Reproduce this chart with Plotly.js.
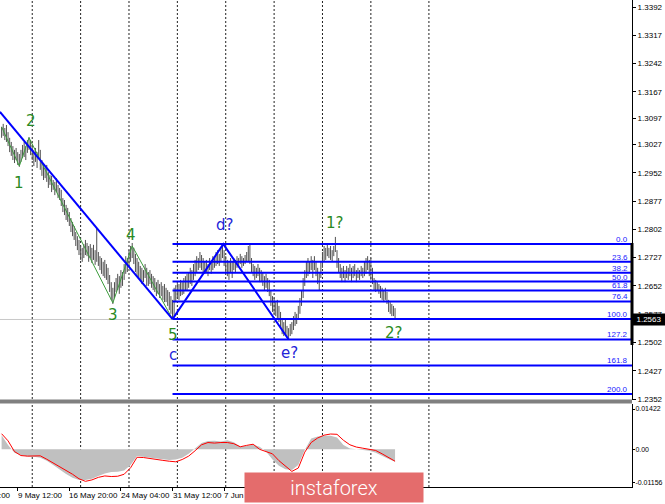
<!DOCTYPE html>
<html><head><meta charset="utf-8">
<script src="https://cdn.plot.ly/plotly-3.0.1.min.js"></script>
<style>html,body{margin:0;padding:0;background:#fff;}#c{width:665px;height:504px;}</style>
</head><body><div id="c"></div>
<script>
// H4 bars (index 0..244), highs and lows
const highs=[1.3074,1.3082,1.3071,1.3079,1.3060,1.3045,1.3034,1.3023,1.3013,1.3018,
1.3007,1.3002,1.3013,1.3026,1.3034,1.3023,1.3039,1.3047,1.3039,1.3026,
1.3013,1.3018,1.3007,1.3039,1.3013,1.2986,1.2973,1.2965,1.2973,1.2954,
1.2946,1.2944,1.2933,1.2928,1.2938,1.2920,1.2912,1.2907,1.2885,1.2880,
1.2867,1.2859,1.2848,1.2832,1.2822,1.2811,1.2795,1.2784,1.2774,1.2758,
1.2753,1.2763,1.2774,1.2766,1.2758,1.2763,1.2753,1.2761,1.2747,1.2806,
1.2742,1.2731,1.2726,1.2716,1.2721,1.2710,1.2700,1.2681,1.2662,1.2647,
1.2662,1.2673,1.2684,1.2678,1.2694,1.2689,1.2710,1.2731,1.2726,1.2747,
1.2758,1.2766,1.2753,1.2737,1.2726,1.2716,1.2705,1.2700,1.2694,1.2710,
1.2700,1.2689,1.2694,1.2684,1.2678,1.2673,1.2662,1.2668,1.2657,1.2662,
1.2652,1.2657,1.2647,1.2641,1.2636,1.2625,1.2615,1.2647,1.2654,1.2662,
1.2657,1.2668,1.2662,1.2673,1.2678,1.2684,1.2689,1.2700,1.2694,1.2710,
1.2721,1.2731,1.2726,1.2742,1.2734,1.2726,1.2716,1.2721,1.2710,1.2726,
1.2716,1.2731,1.2726,1.2742,1.2747,1.2737,1.2753,1.2763,1.2747,1.2731,
1.2721,1.2716,1.2726,1.2716,1.2726,1.2721,1.2731,1.2726,1.2737,1.2731,
1.2726,1.2734,1.2742,1.2758,1.2761,1.2726,1.2710,1.2705,1.2700,1.2710,
1.2700,1.2694,1.2689,1.2678,1.2684,1.2673,1.2668,1.2641,1.2625,1.2620,
1.2609,1.2615,1.2599,1.2583,1.2567,1.2556,1.2562,1.2546,1.2540,1.2551,
1.2556,1.2572,1.2583,1.2578,1.2599,1.2620,1.2641,1.2673,1.2694,1.2716,
1.2726,1.2716,1.2731,1.2721,1.2731,1.2716,1.2700,1.2689,1.2716,1.2742,
1.2758,1.2753,1.2763,1.2753,1.2758,1.2747,1.2758,1.2782,1.2747,1.2726,
1.2710,1.2700,1.2705,1.2694,1.2705,1.2700,1.2710,1.2700,1.2705,1.2710,
1.2694,1.2700,1.2694,1.2705,1.2700,1.2716,1.2726,1.2731,1.2721,1.2726,
1.2700,1.2673,1.2668,1.2662,1.2657,1.2652,1.2647,1.2641,1.2647,1.2636,
1.2615,1.2609,1.2604,1.2599,1.2593];
const lows=[1.3045,1.3050,1.3039,1.3034,1.3023,1.3007,1.2997,1.2986,1.2978,1.2986,
1.2973,1.2968,1.2981,1.2991,1.2994,1.2986,1.3005,1.3013,1.2999,1.2986,
1.2970,1.2981,1.2965,1.2991,1.2960,1.2944,1.2933,1.2938,1.2928,1.2912,
1.2920,1.2901,1.2907,1.2893,1.2901,1.2885,1.2880,1.2864,1.2848,1.2840,
1.2827,1.2822,1.2811,1.2795,1.2784,1.2774,1.2758,1.2747,1.2734,1.2721,
1.2716,1.2726,1.2734,1.2731,1.2716,1.2726,1.2713,1.2721,1.2708,1.2716,
1.2705,1.2694,1.2684,1.2678,1.2673,1.2668,1.2657,1.2636,1.2615,1.2604,
1.2620,1.2636,1.2641,1.2631,1.2647,1.2652,1.2668,1.2684,1.2689,1.2705,
1.2716,1.2726,1.2710,1.2689,1.2678,1.2673,1.2668,1.2657,1.2662,1.2673,
1.2652,1.2652,1.2657,1.2647,1.2641,1.2636,1.2625,1.2631,1.2620,1.2625,
1.2615,1.2609,1.2609,1.2599,1.2588,1.2578,1.2564,1.2572,1.2609,1.2620,
1.2615,1.2625,1.2628,1.2631,1.2641,1.2641,1.2647,1.2657,1.2652,1.2668,
1.2678,1.2689,1.2694,1.2700,1.2694,1.2689,1.2684,1.2689,1.2678,1.2694,
1.2684,1.2694,1.2700,1.2705,1.2710,1.2705,1.2716,1.2726,1.2705,1.2689,
1.2678,1.2668,1.2689,1.2673,1.2694,1.2689,1.2700,1.2705,1.2710,1.2700,
1.2705,1.2710,1.2716,1.2716,1.2710,1.2689,1.2678,1.2668,1.2673,1.2678,
1.2662,1.2662,1.2652,1.2641,1.2647,1.2636,1.2625,1.2599,1.2583,1.2578,
1.2572,1.2567,1.2556,1.2540,1.2524,1.2519,1.2524,1.2514,1.2509,1.2519,
1.2524,1.2535,1.2546,1.2551,1.2562,1.2578,1.2599,1.2620,1.2652,1.2673,
1.2678,1.2684,1.2694,1.2673,1.2694,1.2678,1.2657,1.2641,1.2673,1.2700,
1.2716,1.2721,1.2731,1.2726,1.2721,1.2716,1.2731,1.2742,1.2700,1.2689,
1.2673,1.2662,1.2673,1.2662,1.2673,1.2668,1.2678,1.2662,1.2673,1.2678,
1.2662,1.2673,1.2668,1.2678,1.2673,1.2678,1.2684,1.2694,1.2678,1.2668,
1.2657,1.2641,1.2636,1.2641,1.2631,1.2620,1.2615,1.2609,1.2615,1.2604,
1.2583,1.2578,1.2572,1.2572,1.2562];
const lastPrice=1.2563;

// Elliott wave count (bar index, price)
const waveIdx=[0,11,17,69,81,106];
const wavePx=[1.3074,1.2970,1.3045,1.2607,1.2758,1.2564];
const trendIdx=[-1,106];
const trendPx=[1.3114,1.2564];
const cdeIdx=[106,137.5,178];
const cdePx=[1.2564,1.2763,1.2510];

// Fibonacci levels
const fibPct=["0.0","23.6","38.2","50.0","61.8","76.4","100.0","127.2","161.8","200.0"];
const fibPx=[1.2763,1.2716,1.2687,1.26635,1.2640,1.2611,1.2564,1.2510,1.2441,1.2365];
const fibStart=106;

// labels
const greenLabels=["1","2","3","4","5","1?","2?"];
const greenIdx=[11,18,69,80,106,207,243.5];
const greenPx=[1.2926,1.3090,1.2575,1.2787,1.2522,1.2818,1.2526];
const blueLabels=["c","d?","e?"];
const blueIdx=[106,138,178.5];
const bluePx=[1.2469,1.2814,1.2473];

// axes
const priceTicks=[1.3392,1.3317,1.3242,1.3167,1.3097,1.3027,1.2952,1.2877,1.2802,1.2727,1.2652,1.2577,1.2502,1.2427,1.2352];
const macdTicks=[0.01422,0,-0.01156];
const macdTickText=["0.01422","0.00","-0.01156"];
const timeLabels=["2 May 04:00","9 May 12:00","16 May 20:00","24 May 04:00","31 May 12:00","7 Jun 20:00"];
const timeIdx=[-22,10,42,74,106,138];
const gridIdx=[19,49,79,109,139,169,199,229,265];

// MACD (sampled every 4 bars)
const macdIdx=[0,4,8,12,16,20,24,28,32,36,40,44,48,52,56,60,64,68,72,76,80,84,88,92,96,100,104,108,112,116,120,124,128,132,136,140,144,148,152,156,160,164,168,172,176,180,184,188,192,196,200,204,208,212,216,220,224,228,232,236,240,244];
const macdMain=[0.0050,0.0015,-0.0012,-0.0020,-0.0025,-0.0026,-0.0030,-0.0040,-0.0055,-0.0072,-0.0087,-0.0100,-0.0108,-0.0108,-0.0104,-0.0094,-0.0085,-0.0080,-0.0079,-0.0075,-0.0055,-0.0024,-0.0026,-0.0029,-0.0032,-0.0035,-0.0038,-0.0036,-0.0030,-0.0016,0.0004,0.0022,0.0029,0.0030,0.0028,0.0032,0.0025,0.0010,0.0012,0.0016,0.0009,-0.0008,-0.0036,-0.0058,-0.0070,-0.0073,-0.0055,-0.0002,0.0038,0.0045,0.0048,0.0048,0.0042,0.0015,0.0003,0.0001,-0.0002,-0.0005,-0.0012,-0.0024,-0.0034,-0.0044];
const macdSignal=[0.0055,0.0030,-0.0008,-0.0022,-0.0024,-0.0023,-0.0023,-0.0035,-0.0048,-0.0062,-0.0072,-0.0088,-0.0104,-0.0113,-0.0108,-0.0099,-0.0094,-0.0096,-0.0095,-0.0088,-0.0065,-0.0028,-0.0029,-0.0033,-0.0036,-0.0039,-0.0042,-0.0044,-0.0036,-0.0024,-0.0005,0.0016,0.0024,0.0022,0.0024,0.0024,0.0020,0.0009,0.0014,0.0018,0.0000,-0.0008,-0.0016,-0.0040,-0.0060,-0.0078,-0.0066,-0.0010,0.0024,0.0040,0.0050,0.0054,0.0053,0.0032,0.0016,0.0008,0.0004,0.0001,-0.0004,-0.0016,-0.0028,-0.0042];

// ---- build ----
const H=487; // plot area height in px
const X0=-0.992, X1=390.95;
const bx=[],by=[];
highs.forEach((h,i)=>{bx.push(i,i,null);by.push(lows[i],h,null);});
const fx=[],fy=[];
fibPx.forEach(p=>{fx.push(fibStart,391,null);fy.push(p,p,null);});

const traces=[
 {type:'scatter',mode:'lines',x:bx,y:by,line:{color:'#505050',width:1},hoverinfo:'skip',xaxis:'x',yaxis:'y'},
 {type:'scatter',mode:'lines',x:waveIdx,y:wavePx,line:{color:'#3c9c3c',width:1},hoverinfo:'skip'},
 {type:'scatter',mode:'lines',x:fx,y:fy,line:{color:'#0000ff',width:2},hoverinfo:'skip'},
 {type:'scatter',mode:'lines',x:trendIdx,y:trendPx,line:{color:'#0000ff',width:2},hoverinfo:'skip'},
 {type:'scatter',mode:'lines',x:cdeIdx,y:cdePx,line:{color:'#0000ff',width:2},hoverinfo:'skip'},
 {type:'scatter',mode:'lines',x:macdIdx,y:macdMain,fill:'tozeroy',fillcolor:'#c0c0c0',line:{width:0,color:'#c0c0c0'},hoverinfo:'skip',xaxis:'x2',yaxis:'y2'},
 {type:'scatter',mode:'lines',x:macdIdx,y:macdSignal,line:{color:'#ff0000',width:1},hoverinfo:'skip',xaxis:'x2',yaxis:'y2'}
];

const shapes=[];
gridIdx.forEach(g=>shapes.push({type:'line',xref:'x',yref:'paper',x0:g,x1:g,y0:0,y1:1,layer:'below',line:{color:'#222',width:1,dash:'2px,2px'}}));
shapes.push({type:'line',xref:'x',yref:'y',x0:-1,x1:391,y0:lastPrice,y1:lastPrice,layer:'below',line:{color:'#c8c8c8',width:1}});
shapes.push({type:'rect',xref:'paper',yref:'paper',x0:0,x1:1,y0:(H-403.5)/H,y1:(H-399.5)/H,fillcolor:'#808080',line:{width:0},layer:'above'});
shapes.push({type:'line',xref:'paper',yref:'y',x0:1,x1:1,y0:1.2495,y1:1.2766,line:{color:'#000',width:3},layer:'above'});

const ann=[];
fibPct.forEach((t,i)=>ann.push({xref:'paper',yref:'y',x:0.997,y:fibPx[i],text:t,showarrow:false,xanchor:'right',yanchor:'bottom',yshift:-2,font:{family:'Liberation Sans',size:8,color:'#2020ff'}}));
greenLabels.forEach((t,i)=>ann.push({xref:'x',yref:'y',x:greenIdx[i],y:greenPx[i],text:t,showarrow:false,font:{family:'DejaVu Sans',size:15,color:'#2a8a22'}}));
blueLabels.forEach((t,i)=>ann.push({xref:'x',yref:'y',x:blueIdx[i],y:bluePx[i],text:t,showarrow:false,font:{family:'DejaVu Sans',size:15,color:'#2323d8'}}));
timeLabels.forEach((t,i)=>ann.push({xref:'paper',yref:'paper',x:(timeIdx[i]-X0)/(X1-X0),y:-8/H,text:t,showarrow:false,xanchor:'left',yanchor:'middle',xshift:-2,font:{family:'Liberation Sans',size:8,color:'#000'}}));
ann.push({xref:'paper',yref:'y',x:1,y:lastPrice,text:'1.2563',showarrow:false,xanchor:'left',yanchor:'middle',bgcolor:'#000',borderpad:1,width:30,align:'center',font:{family:'Liberation Sans',size:8,color:'#fff'}});
ann.push({xref:'paper',yref:'paper',x:333.5/632,y:-0.2/H,text:'instaforex',showarrow:false,xanchor:'center',yanchor:'middle',bgcolor:'#e46c6c',borderpad:1,width:176,height:27,font:{family:'Roboto',size:20,color:'#fff',weight:300}});

const layout={
 width:665,height:504,margin:{l:0,r:33,t:0,b:17},
 paper_bgcolor:'#fff',plot_bgcolor:'#fff',showlegend:false,
 xaxis:{range:[X0,X1],domain:[0,1],anchor:'y',showline:false,showgrid:false,zeroline:false,showticklabels:false,ticks:''},
 xaxis2:{range:[X0,X1],domain:[0,1],anchor:'y2',showline:true,linecolor:'#000',linewidth:1,showgrid:false,zeroline:false,showticklabels:false,ticks:'outside',ticklen:3,tickcolor:'#000',tickvals:timeIdx},
 yaxis:{domain:[(H-399.5)/H,1],range:[1.23507,1.34106],side:'right',anchor:'x',showline:true,linecolor:'#000',linewidth:1,showgrid:false,zeroline:false,ticks:'outside',ticklen:3,tickcolor:'#000',tickvals:priceTicks,ticktext:priceTicks.map(v=>v.toFixed(4)),tickfont:{family:'Liberation Sans',size:8,color:'#000'}},
 yaxis2:{domain:[0,(H-404)/H],range:[-0.0133,0.0160],side:'right',anchor:'x2',showline:true,linecolor:'#000',linewidth:1,showgrid:false,zeroline:false,ticks:'outside',ticklen:2,tickcolor:'#000',ticklabelstandoff:-1,tickvals:macdTicks,ticktext:macdTickText,tickfont:{family:'Liberation Sans',size:7,color:'#000'}},
 shapes:shapes,annotations:ann
};
Plotly.newPlot('c',traces,layout,{staticPlot:true,displayModeBar:false});
</script></body></html>
